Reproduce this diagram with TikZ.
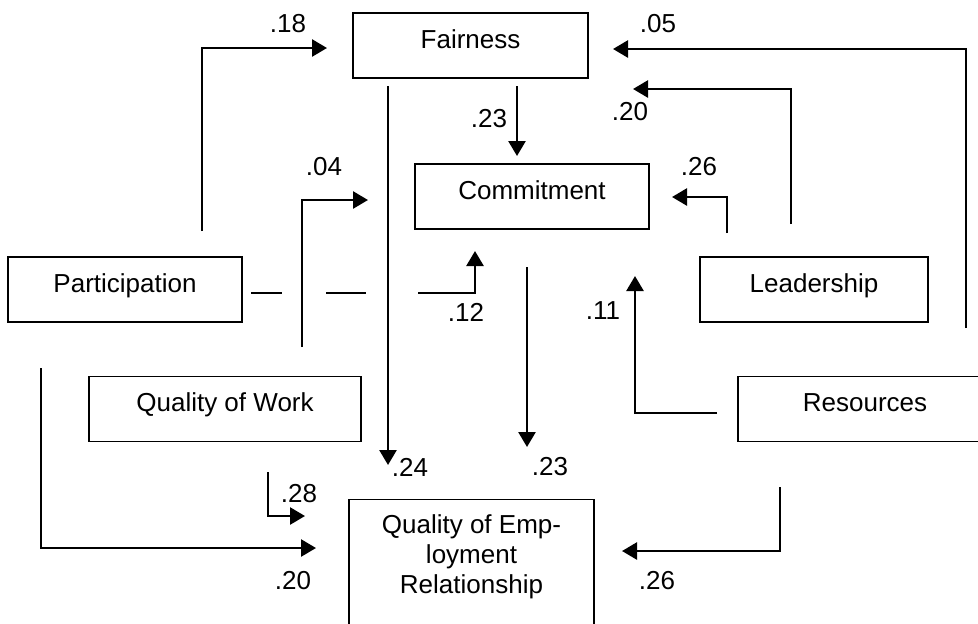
\documentclass[tikz,border=0pt]{standalone}
\usepackage{fontspec}
\setmainfont{Liberation Sans}
\usetikzlibrary{arrows.meta}
\tikzset{
  every node/.style={font=\fontsize{13}{15}\selectfont, inner sep=0pt},
  box/.style={draw, line width=0.7pt, minimum height=32.5pt, text height=17.5pt, text depth=15pt},
  arr/.style={line width=1.3pt, -{Triangle[length=7.5pt,width=8.5pt]}},
  seg/.style={line width=1.3pt}
}
\begin{document}
\begin{tikzpicture}[x=0.5pt,y=-0.5pt]
\useasboundingbox (0,0) rectangle (978,623);

\node[box, minimum width=117.5pt] (F) at (470.5,45.5) {Fairness};
\node[box, minimum width=117pt] (C) at (532,196.5) {Commitment};
\node[box, minimum width=117pt] (P) at (125,289.5) {Participation};
\node[box, minimum width=114pt] (L) at (814,289.5) {Leadership};
\node[box, minimum width=136pt, minimum height=32pt] (W) at (225,409) {Quality of Work};
\node[box, minimum width=127pt, minimum height=32pt] (R) at (865,409) {Resources};
\node[draw, line width=0.7pt, anchor=north, minimum width=122.5pt, inner ysep=7.5pt, align=center] (Q) at (471.5,499)
  {Quality of Emp-\\loyment\\Relationship\\ \\ \\};

\node (l18) at (288,24) {.18};
\node (l05) at (658,24) {.05};
\node (l23a) at (489,119) {.23};
\node (l20a) at (630,112) {.20};
\node (l04) at (324,167) {.04};
\node (l26a) at (699,167) {.26};
\node (l12) at (466,312) {.12};
\node (l11) at (603,311) {.11};
\node (l24) at (410,467) {.24};
\node (l23b) at (550,467) {.23};
\node (l28) at (299,494) {.28};
\node (l20b) at (293,581) {.20};
\node (l26b) at (657,581) {.26};

\coordinate (a1) at (202,231); \coordinate (a2) at (327,48);
\coordinate (b1) at (302,347); \coordinate (b2) at (368,200);
\coordinate (c1) at (388,86);  \coordinate (c2) at (388,465);
\coordinate (d1) at (517,86);  \coordinate (d2) at (517,156);
\coordinate (e1) at (966,328); \coordinate (e2) at (613,49);
\coordinate (f1) at (791,224); \coordinate (f2) at (633,89);
\coordinate (g1) at (727,233); \coordinate (g2) at (672,197);
\coordinate (h1) at (251,293); \coordinate (h2) at (282,293);
\coordinate (h3) at (326,293); \coordinate (h4) at (366,293);
\coordinate (h5) at (418,293); \coordinate (h6) at (475,251);
\coordinate (i1) at (527,267); \coordinate (i2) at (527,447);
\coordinate (j1) at (717,413); \coordinate (j2) at (635,276);
\coordinate (k1) at (41,368);  \coordinate (k2) at (316,548);
\coordinate (m1) at (268,472); \coordinate (m2) at (305,516);
\coordinate (n1) at (780,487); \coordinate (n2) at (622,551);

\draw[arr] (a1) |- (a2);
\draw[arr] (b1) |- (b2);
\draw[arr] (c1) -- (c2);
\draw[arr] (d1) -- (d2);
\draw[arr] (e1) |- (e2);
\draw[arr] (f1) |- (f2);
\draw[arr] (g1) |- (g2);
\draw[seg] (h1) -- (h2);
\draw[seg] (h3) -- (h4);
\draw[arr] (h5) -| (h6);
\draw[arr] (i1) -- (i2);
\draw[arr] (j1) -| (j2);
\draw[arr] (k1) |- (k2);
\draw[arr] (m1) |- (m2);
\draw[arr] (n1) |- (n2);
\end{tikzpicture}
\end{document}
